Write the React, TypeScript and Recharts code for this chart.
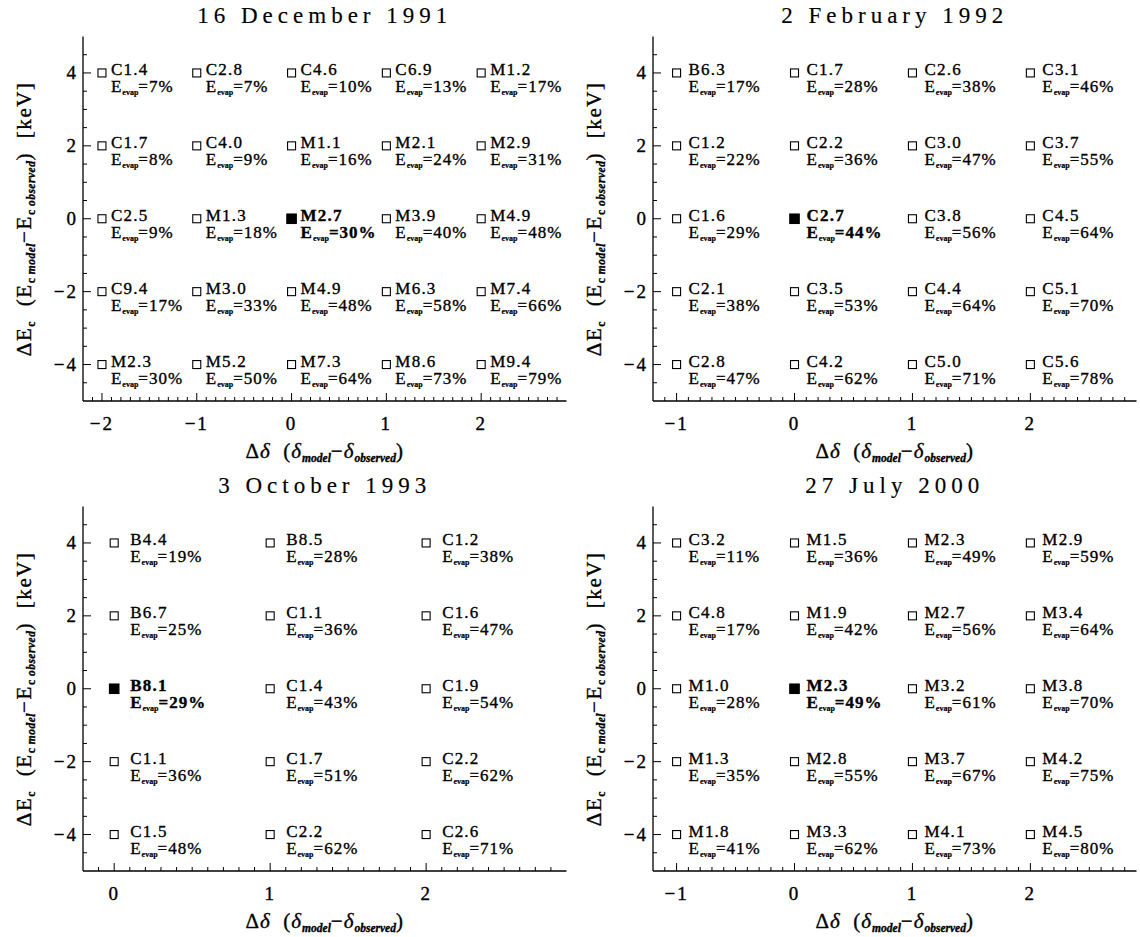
import React from 'react';
import { ScatterChart, Scatter, XAxis, YAxis } from 'recharts';

const FONT = '"Liberation Serif", "DejaVu Serif", serif';
const TEXT_STROKE = { stroke: '#000', strokeWidth: 0.35 };

// ---------- 16 December 1991 ----------
const dec1991Title = '16 December 1991';
const dec1991DeltaDelta = [-2, -1, 0, 1, 2];
const dec1991DeltaE = [4, 2, 0, -2, -4];
const dec1991Class = [
  ['C1.4', 'C2.8', 'C4.6', 'C6.9', 'M1.2'],
  ['C1.7', 'C4.0', 'M1.1', 'M2.1', 'M2.9'],
  ['C2.5', 'M1.3', 'M2.7', 'M3.9', 'M4.9'],
  ['C9.4', 'M3.0', 'M4.9', 'M6.3', 'M7.4'],
  ['M2.3', 'M5.2', 'M7.3', 'M8.6', 'M9.4'],
];
const dec1991Evap = [
  [7, 7, 10, 13, 17],
  [8, 9, 16, 24, 31],
  [9, 18, 30, 40, 48],
  [17, 33, 48, 58, 66],
  [30, 50, 64, 73, 79],
];
const dec1991XDomain = [-2.2, 2.9];
const dec1991XTicks = [-2, -1, 0, 1, 2];

// ---------- 2 February 1992 ----------
const feb1992Title = '2 February 1992';
const feb1992DeltaDelta = [-1, 0, 1, 2];
const feb1992DeltaE = [4, 2, 0, -2, -4];
const feb1992Class = [
  ['B6.3', 'C1.7', 'C2.6', 'C3.1'],
  ['C1.2', 'C2.2', 'C3.0', 'C3.7'],
  ['C1.6', 'C2.7', 'C3.8', 'C4.5'],
  ['C2.1', 'C3.5', 'C4.4', 'C5.1'],
  ['C2.8', 'C4.2', 'C5.0', 'C5.6'],
];
const feb1992Evap = [
  [17, 28, 38, 46],
  [22, 36, 47, 55],
  [29, 44, 56, 64],
  [38, 53, 64, 70],
  [47, 62, 71, 78],
];
const feb1992XDomain = [-1.2, 2.9];
const feb1992XTicks = [-1, 0, 1, 2];

// ---------- 3 October 1993 ----------
const oct1993Title = '3 October 1993';
const oct1993DeltaDelta = [0, 1, 2];
const oct1993DeltaE = [4, 2, 0, -2, -4];
const oct1993Class = [
  ['B4.4', 'B8.5', 'C1.2'],
  ['B6.7', 'C1.1', 'C1.6'],
  ['B8.1', 'C1.4', 'C1.9'],
  ['C1.1', 'C1.7', 'C2.2'],
  ['C1.5', 'C2.2', 'C2.6'],
];
const oct1993Evap = [
  [19, 28, 38],
  [25, 36, 47],
  [29, 43, 54],
  [36, 51, 62],
  [48, 62, 71],
];
const oct1993XDomain = [-0.2, 2.9];
const oct1993XTicks = [0, 1, 2];

// ---------- 27 July 2000 ----------
const jul2000Title = '27 July 2000';
const jul2000DeltaDelta = [-1, 0, 1, 2];
const jul2000DeltaE = [4, 2, 0, -2, -4];
const jul2000Class = [
  ['C3.2', 'M1.5', 'M2.3', 'M2.9'],
  ['C4.8', 'M1.9', 'M2.7', 'M3.4'],
  ['M1.0', 'M2.3', 'M3.2', 'M3.8'],
  ['M1.3', 'M2.8', 'M3.7', 'M4.2'],
  ['M1.8', 'M3.3', 'M4.1', 'M4.5'],
];
const jul2000Evap = [
  [11, 36, 49, 59],
  [17, 42, 56, 64],
  [28, 49, 61, 70],
  [35, 55, 67, 75],
  [41, 62, 73, 80],
];
const jul2000XDomain = [-1.2, 2.9];
const jul2000XTicks = [-1, 0, 1, 2];

// shared
const bestFitDelta = 0;
const bestFitE = 0;
const yDomain = [-5, 5];
const yTicks = [-4, -2, 0, 2, 4];
const xMinorStep = 0.1;
const yMinorStep = 0.5;

type Pt = { x: number; y: number; cls: string; evap: number; best: boolean };

function buildPoints(dd: number[], de: number[], cls: string[][], ev: number[][]): Pt[] {
  const pts: Pt[] = [];
  de.forEach((y, i) => {
    dd.forEach((x, j) => {
      pts.push({ x, y, cls: cls[i][j], evap: ev[i][j], best: x === bestFitDelta && y === bestFitE });
    });
  });
  return pts;
}

function stepTicks(domain: number[], step: number): number[] {
  const out: number[] = [];
  const n0 = Math.ceil(domain[0] / step + 1e-9);
  const n1 = Math.floor(domain[1] / step - 1e-9);
  for (let n = n0; n <= n1; n++) out.push(Math.round(n * step * 1000) / 1000);
  return out;
}

const isMajor = (v: number, majors: number[]) => majors.some((m) => Math.abs(m - v) < 1e-6);
const fmt = (v: number) => (v < 0 ? '\u2212' + Math.abs(v) : String(v));

const MAJOR = 8;
const MINOR = 4;
const TICK_FONT = 19;

function Panel(props: {
  left: number;
  top: number;
  title: string;
  points: Pt[];
  xDomain: number[];
  xMajor: number[];
  labelDx: number;
}) {
  const { left, top, title, points, xDomain, xMajor, labelDx } = props;
  const W = 570;
  const H = 470;
  const mTop = 36.5;
  const mRight = 3.5;
  const yAxisW = 83;
  const xAxisH = 69;
  const plotL = yAxisW;
  const plotR = W - mRight;
  const plotT = mTop;
  const plotB = H - xAxisH;
  const allX = stepTicks(xDomain, xMinorStep);
  const allY = stepTicks(yDomain, yMinorStep);
  const axisLine = { stroke: '#000', strokeWidth: 1.3 };

  const bottomTick = (p: any) => {
    const v = p.payload.value;
    const maj = isMajor(v, xMajor);
    return (
      <g>
        <line x1={p.x} x2={p.x} y1={p.y} y2={p.y - (maj ? MAJOR : MINOR)} stroke="#000" strokeWidth={1} />
        {maj && (
          <text x={p.x} y={p.y + 29} textAnchor="middle" fontFamily={FONT} fontSize={TICK_FONT} fill="#000" {...TEXT_STROKE} style={{ letterSpacing: 2 }}>
            {fmt(v)}
          </text>
        )}
      </g>
    );
  };
  const topTick = (p: any) => {
    const v = p.payload.value;
    const maj = isMajor(v, xMajor);
    return <line x1={p.x} x2={p.x} y1={p.y} y2={p.y + (maj ? MAJOR : MINOR)} stroke="#000" strokeWidth={1} />;
  };
  const leftTick = (p: any) => {
    const v = p.payload.value;
    const maj = isMajor(v, yTicks);
    return (
      <g>
        <line x1={p.x} x2={p.x + (maj ? MAJOR : MINOR)} y1={p.y} y2={p.y} stroke="#000" strokeWidth={1} />
        {maj && (
          <text x={p.x - 5} y={p.y + 6.5} textAnchor="end" fontFamily={FONT} fontSize={TICK_FONT} fill="#000" {...TEXT_STROKE} style={{ letterSpacing: 2 }}>
            {fmt(v)}
          </text>
        )}
      </g>
    );
  };
  const rightTick = (p: any) => {
    const v = p.payload.value;
    const maj = isMajor(v, yTicks);
    return <line x1={p.x} x2={p.x - (maj ? MAJOR : MINOR)} y1={p.y} y2={p.y} stroke="#000" strokeWidth={1} />;
  };

  const marker = (p: any) => {
    const { cx, cy, payload } = p;
    const best = payload.best;
    const s = best ? 9.5 : 8;
    const fw = best ? 'bold' : 'normal';
    const tx = cx + labelDx;
    return (
      <g>
        <rect x={cx - s / 2} y={cy - s / 2} width={s} height={s} fill={best ? '#000' : '#fff'} stroke="#000" strokeWidth={1.1} />
        <text x={tx} y={cy + 2} fontFamily={FONT} fontSize={17} fontWeight={fw} fill="#000" {...TEXT_STROKE} style={{ letterSpacing: 1.2 }}>
          {payload.cls}
        </text>
        <text x={tx} y={cy + 19.5} fontFamily={FONT} fontSize={17} fontWeight={fw} fill="#000" {...TEXT_STROKE} style={{ letterSpacing: 1 }}>
          E
          <tspan fontSize={8} fontWeight="bold" dy={3} strokeWidth={0.2} style={{ letterSpacing: 0 }}>
            evap
          </tspan>
          <tspan dy={-3}>={payload.evap}%</tspan>
        </text>
      </g>
    );
  };

  const cxPlot = (plotL + plotR) / 2;
  const cyPlot = (plotT + plotB) / 2;

  return (
    <div style={{ position: 'absolute', left, top, width: W, height: H }}>
      <ScatterChart width={W} height={H} margin={{ top: mTop, right: mRight, bottom: 0, left: 0 }}>
        <XAxis
          xAxisId="b"
          type="number"
          dataKey="x"
          orientation="bottom"
          domain={xDomain}
          ticks={allX}
          interval={0}
          allowDataOverflow
          height={xAxisH}
          tickSize={0}
          tickMargin={0}
          tickLine={false}
          axisLine={axisLine}
          tick={bottomTick}
        />
        <XAxis
          xAxisId="t"
          type="number"
          dataKey="x"
          orientation="top"
          domain={xDomain}
          ticks={allX}
          interval={0}
          allowDataOverflow
          height={0}
          tickSize={0}
          tickMargin={0}
          tickLine={false}
          axisLine={axisLine}
          tick={topTick}
        />
        <YAxis
          yAxisId="l"
          type="number"
          dataKey="y"
          orientation="left"
          domain={yDomain}
          ticks={allY}
          interval={0}
          allowDataOverflow
          width={yAxisW}
          tickSize={0}
          tickMargin={0}
          tickLine={false}
          axisLine={axisLine}
          tick={leftTick}
        />
        <YAxis
          yAxisId="r"
          type="number"
          dataKey="y"
          orientation="right"
          domain={yDomain}
          ticks={allY}
          interval={0}
          allowDataOverflow
          width={0}
          tickSize={0}
          tickMargin={0}
          tickLine={false}
          axisLine={axisLine}
          tick={rightTick}
        />
        <Scatter xAxisId="b" yAxisId="l" data={points} shape={marker} isAnimationActive={false} />
      </ScatterChart>
      <svg width={W} height={H} style={{ position: 'absolute', left: 0, top: 0, pointerEvents: 'none' }}>
        <text x={cxPlot} y={plotT - 14} textAnchor="middle" fontFamily={FONT} fontSize={23} fill="#000" stroke="#000" strokeWidth={0.15} style={{ letterSpacing: 5 }}>
          {title}
        </text>
        <text x={cxPlot} y={plotB + 57} textAnchor="middle" fontFamily={FONT} fontSize={21} fill="#000" {...TEXT_STROKE} style={{ whiteSpace: 'pre', letterSpacing: 1 }}>
          {'\u0394'}
          <tspan fontStyle="italic">{'\u03b4'}</tspan>
          {'  ('}
          <tspan fontStyle="italic">{'\u03b4'}</tspan>
          <tspan fontSize={11.5} fontStyle="italic" fontWeight="bold" dy={4} style={{ letterSpacing: 0 }}>model</tspan>
          <tspan dy={-4}>{'\u2212'}</tspan>
          <tspan fontStyle="italic">{'\u03b4'}</tspan>
          <tspan fontSize={11.5} fontStyle="italic" fontWeight="bold" dy={4} style={{ letterSpacing: 0 }}>observed</tspan>
          <tspan dy={-4}>)</tspan>
        </text>
        <text
          x={0}
          y={0}
          transform={`translate(${31}, ${cyPlot}) rotate(-90)`}
          textAnchor="middle"
          fontFamily={FONT}
          fontSize={21}
          fill="#000"
          {...TEXT_STROKE}
          style={{ whiteSpace: 'pre', letterSpacing: 1.6 }}
        >
          {'\u0394E'}
          <tspan fontSize={11.5} fontWeight="bold" dy={4}>c</tspan>
          <tspan dy={-4}>{'  (E'}</tspan>
          <tspan fontSize={11.5} fontWeight="bold" dy={4} style={{ letterSpacing: 0.5 }}>{'c '}</tspan>
          <tspan fontSize={11.5} fontWeight="bold" fontStyle="italic" style={{ letterSpacing: 0.5 }}>model</tspan>
          <tspan dy={-4}>{'\u2212E'}</tspan>
          <tspan fontSize={11.5} fontWeight="bold" dy={4} style={{ letterSpacing: 0.5 }}>{'c '}</tspan>
          <tspan fontSize={11.5} fontWeight="bold" fontStyle="italic" style={{ letterSpacing: 0.5 }}>observed</tspan>
          <tspan dy={-4}>{')  [keV]'}</tspan>
        </text>
      </svg>
    </div>
  );
}

export default function App() {
  const p1 = buildPoints(dec1991DeltaDelta, dec1991DeltaE, dec1991Class, dec1991Evap);
  const p2 = buildPoints(feb1992DeltaDelta, feb1992DeltaE, feb1992Class, feb1992Evap);
  const p3 = buildPoints(oct1993DeltaDelta, oct1993DeltaE, oct1993Class, oct1993Evap);
  const p4 = buildPoints(jul2000DeltaDelta, jul2000DeltaE, jul2000Class, jul2000Evap);
  return (
    <div style={{ position: 'absolute', left: 0, top: 0, width: 1140, height: 937, background: '#fff' }}>
      <Panel left={0} top={0} title={dec1991Title} points={p1} xDomain={dec1991XDomain} xMajor={dec1991XTicks} labelDx={9} />
      <Panel left={570} top={0} title={feb1992Title} points={p2} xDomain={feb1992XDomain} xMajor={feb1992XTicks} labelDx={12} />
      <Panel left={0} top={470} title={oct1993Title} points={p3} xDomain={oct1993XDomain} xMajor={oct1993XTicks} labelDx={16} />
      <Panel left={570} top={470} title={jul2000Title} points={p4} xDomain={jul2000XDomain} xMajor={jul2000XTicks} labelDx={12} />
    </div>
  );
}
